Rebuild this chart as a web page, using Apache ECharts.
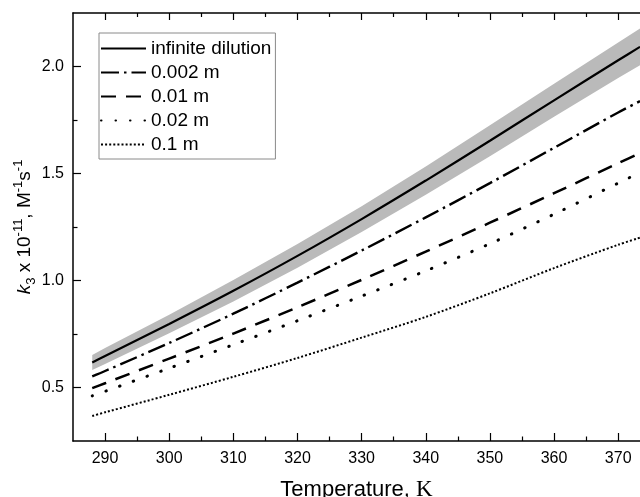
<!DOCTYPE html>
<html>
<head>
<meta charset="utf-8">
<script src="https://cdn.jsdelivr.net/npm/echarts@6/dist/echarts.min.js"></script>
<style>
html, body { margin: 0; padding: 0; background: #fff; }
#chart { width: 640px; height: 497px; }
</style>
</head>
<body>
<div id="chart"></div>
<script>
// temperature, K
const temps = [288, 290, 300, 310, 320, 330, 340, 350, 360, 370, 373.4]
// k3 x 1e-11, M^-1 s^-1
const infDilution = [0.617, 0.647, 0.797, 0.952, 1.115, 1.287, 1.467, 1.653, 1.842, 2.029, 2.092]
const bandUpper = [0.652, 0.684, 0.840, 1.002, 1.170, 1.347, 1.533, 1.725, 1.919, 2.112, 2.178]
const bandLower = [0.582, 0.610, 0.754, 0.902, 1.060, 1.227, 1.401, 1.581, 1.765, 1.946, 2.006]
const m0002 = [0.552, 0.577, 0.708, 0.845, 0.99, 1.14, 1.295, 1.455, 1.62, 1.785, 1.838]
const m001 = [0.497, 0.52, 0.635, 0.752, 0.875, 1.003, 1.135, 1.27, 1.408, 1.548, 1.596]
const m002 = [0.461, 0.482, 0.59, 0.70, 0.812, 0.927, 1.045, 1.172, 1.31, 1.455, 1.505]
const m01 = [0.367, 0.384, 0.466, 0.55, 0.638, 0.733, 0.83, 0.94, 1.058, 1.167, 1.20]
const seriesNames = ['infinite dilution', '0.002 m', '0.01 m', '0.02 m', '0.1 m']

const xMajor = [290, 300, 310, 320, 330, 340, 350, 360, 370]
const xMinor = [295, 305, 315, 325, 335, 345, 355, 365]
const yMajor = [0.5, 1.0, 1.5, 2.0]
const yMinor = [0.75, 1.25, 1.75]

const font = 'Liberation Sans, Arial, sans-serif'

function pairs(ys) {
    return temps.map((t, i) => [t, ys[i]])
}

function xAxisOf(position, ticks, len, showLine, showLabel) {
    return {
        type: 'value', position: position, min: 285, max: 373.4, interval: 5,
        splitLine: {show: false},
        axisLine: {show: showLine, onZero: false, lineStyle: {color: '#000', width: 1.5}},
        axisTick: {show: true, inside: true, length: len, customValues: ticks, lineStyle: {color: '#000', width: 1.2}},
        axisLabel: {show: showLabel, customValues: xMajor, color: '#000', fontSize: 16, fontFamily: font, margin: 10}
    }
}

function lineSeries(name, ys, dash, width, cap) {
    return {
        name: name, type: 'line', data: pairs(ys), symbol: 'none', smooth: 0.3,
        lineStyle: {color: '#000', width: width, type: dash, cap: cap || 'butt'},
        itemStyle: {color: '#000'}, z: 5
    }
}

// 灰色误差带：上下边界围成的多边形
function renderBand(params, api) {
    if (params.dataIndex !== 0) {
        return
    }
    const top = temps.map((t, i) => api.coord([t, bandUpper[i]]))
    const bottom = temps.map((t, i) => api.coord([t, bandLower[i]])).reverse()
    return {
        type: 'polygon',
        shape: {points: top.concat(bottom)},
        style: {fill: '#bababa', stroke: null},
        silent: true
    }
}

function init() {
    const chart = echarts.init(document.getElementById('chart'), null, {renderer: 'canvas'})
    const option = {
        animation: false,
        backgroundColor: '#fff',
        grid: {left: 73, right: 0, top: 13, bottom: 56, containLabel: false, outerBoundsMode: 'none'},
        legend: {
            data: seriesNames, orient: 'vertical', left: 99, top: 33,
            padding: [6, 4, 5, 1], itemGap: 5, itemWidth: 45, itemHeight: 18,
            borderColor: '#8a8a8a', borderWidth: 1, selectedMode: false,
            itemStyle: {opacity: 0},
            textStyle: {color: '#000', fontSize: 19, fontFamily: font, lineHeight: 19}
        },
        xAxis: [
            Object.assign(xAxisOf('bottom', xMajor, 8, true, true), {
                name: '{n|Temperature, }{k|K}', nameLocation: 'middle', nameGap: 37,
                nameMoveOverlap: false,
                nameTextStyle: {
                    rich: {
                        n: {fontSize: 22, fontFamily: font, color: '#000'},
                        k: {fontSize: 23, fontFamily: 'Liberation Serif, Times New Roman, serif', color: '#000'}
                    }
                }
            }),
            xAxisOf('bottom', xMinor, 4.5, false, false),
            xAxisOf('top', xMajor, 7, true, false),
            xAxisOf('top', xMinor, 4, false, false)
        ],
        yAxis: [{
            type: 'value', position: 'left', min: 0.25, max: 2.25, interval: 0.25,
            splitLine: {show: false},
            axisLine: {show: true, onZero: false, lineStyle: {color: '#000', width: 1.5}},
            axisTick: {show: true, inside: true, length: 8, customValues: yMajor, lineStyle: {color: '#000', width: 1.2}},
            axisLabel: {customValues: yMajor, color: '#000', fontSize: 16, fontFamily: font, margin: 9,
                formatter: v => v.toFixed(1)},
            name: '{i|k}{sub|3}{n| x 10}{sup|-11}{n|, M}{sup|-1}{n|s}{sup|-1}',
            nameLocation: 'middle', nameRotate: 90, nameGap: 35, nameMoveOverlap: false,
            nameTextStyle: {
                rich: {
                    i: {fontSize: 19, fontStyle: 'italic', fontFamily: font, color: '#000', lineHeight: 26, verticalAlign: 'middle'},
                    n: {fontSize: 19, fontFamily: font, color: '#000', lineHeight: 26, verticalAlign: 'middle'},
                    sub: {fontSize: 13, fontFamily: font, color: '#000', lineHeight: 13, verticalAlign: 'bottom'},
                    sup: {fontSize: 13, fontFamily: font, color: '#000', lineHeight: 13, verticalAlign: 'top'}
                }
            }
        }, {
            type: 'value', position: 'left', min: 0.25, max: 2.25, interval: 0.25,
            splitLine: {show: false},
            axisLine: {show: false},
            axisTick: {show: true, inside: true, length: 4.5, customValues: yMinor, lineStyle: {color: '#000', width: 1.2}},
            axisLabel: {show: false}
        }],
        series: [
            {
                name: 'band', type: 'custom', data: pairs(infDilution), renderItem: renderBand,
                silent: true, z: 1
            },
            lineSeries(seriesNames[0], infDilution, 'solid', 2.2),
            lineSeries(seriesNames[1], m0002, [18, 5, 2.5, 5], 2.4),
            lineSeries(seriesNames[2], m001, [15, 10], 2.5),
            lineSeries(seriesNames[3], m002, [0.5, 14], 3, 'round'),
            lineSeries(seriesNames[4], m01, [2, 2.1], 2)
        ]
    }
    chart.setOption(option)
}
init()
</script>
</body>
</html>
